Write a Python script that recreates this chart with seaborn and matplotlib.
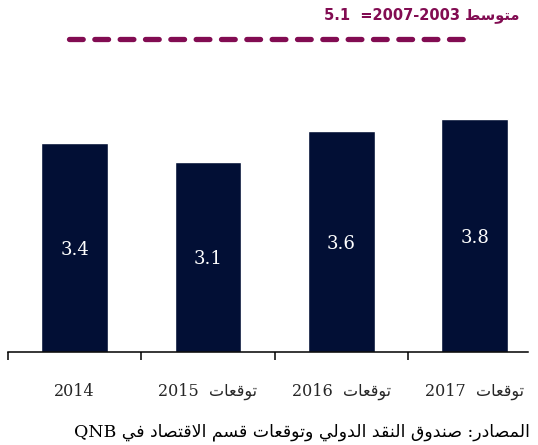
import matplotlib
matplotlib.use("Agg")
import matplotlib.pyplot as plt
import seaborn as sns

# Data
years = ["2014", "2015", "2016", "2017"]
forecast = [False, True, True, True]
growth = [3.4, 3.1, 3.6, 3.8]
avg_value = 5.1
avg_label = "متوسط"
avg_period = "2007-2003"
forecast_word = "توقعات"
source_text = "المصادر: صندوق النقد الدولي وتوقعات قسم الاقتصاد في"
source_tail = "QNB"

BAR_COLOR = "#020f35"
AVG_COLOR = "#820c52"

# Minimal Arabic shaping (matplotlib has no bidi / joining support)
# letter: (isolated, final, initial, medial); None -> does not join forward
FORMS = {
    "ا": ("\uFE8D", "\uFE8E", None, None),
    "ب": ("\uFE8F", "\uFE90", "\uFE91", "\uFE92"),
    "ت": ("\uFE95", "\uFE96", "\uFE97", "\uFE98"),
    "د": ("\uFEA9", "\uFEAA", None, None),
    "ر": ("\uFEAD", "\uFEAE", None, None),
    "س": ("\uFEB1", "\uFEB2", "\uFEB3", "\uFEB4"),
    "ص": ("\uFEB9", "\uFEBA", "\uFEBB", "\uFEBC"),
    "ط": ("\uFEC1", "\uFEC2", "\uFEC3", "\uFEC4"),
    "ع": ("\uFEC9", "\uFECA", "\uFECB", "\uFECC"),
    "ف": ("\uFED1", "\uFED2", "\uFED3", "\uFED4"),
    "ق": ("\uFED5", "\uFED6", "\uFED7", "\uFED8"),
    "ل": ("\uFEDD", "\uFEDE", "\uFEDF", "\uFEE0"),
    "م": ("\uFEE1", "\uFEE2", "\uFEE3", "\uFEE4"),
    "ن": ("\uFEE5", "\uFEE6", "\uFEE7", "\uFEE8"),
    "و": ("\uFEED", "\uFEEE", None, None),
    "ي": ("\uFEF1", "\uFEF2", "\uFEF3", "\uFEF4"),
}


def joins_forward(ch):
    return ch in FORMS and FORMS[ch][2] is not None


def ar(text):
    out = []
    i = 0
    n = len(text)
    while i < n:
        ch = text[i]
        if ch not in FORMS:
            out.append(ch)
            i += 1
            continue
        prev_join = i > 0 and joins_forward(text[i - 1])
        if ch == "ل" and i + 1 < n and text[i + 1] == "ا":
            out.append("\uFEFC" if prev_join else "\uFEFB")
            i += 2
            continue
        nxt = text[i + 1] if i + 1 < n else ""
        next_join = joins_forward(ch) and nxt in FORMS
        iso, fin, ini, med = FORMS[ch]
        if prev_join and next_join:
            out.append(med)
        elif prev_join:
            out.append(fin)
        elif next_join:
            out.append(ini)
        else:
            out.append(iso)
        i += 1
    return "".join(reversed(out))


labels = [
    (y + "  " + ar(forecast_word)) if f else y for y, f in zip(years, forecast)
]

sns.set_theme(style="white")
plt.rcParams["font.family"] = ["DejaVu Serif", "DejaVu Sans"]

fig = plt.figure(figsize=(5.38, 4.45), dpi=100)
ax = fig.add_axes([8 / 538, 93 / 445, 520 / 538, 352 / 445])

sns.barplot(x=labels, y=growth, color=BAR_COLOR, saturation=1, width=0.5, ax=ax)

for i, v in enumerate(growth):
    ax.text(i, v / 2 - 0.04, f"{v:.1f}", color="white", ha="center", va="center",
            fontsize=13, family=["DejaVu Serif"])

# 2003-2007 average line
ax.hlines(avg_value, -0.04, 2.97, color=AVG_COLOR, lw=3.8,
          linestyles=(0, (2.6, 2.2)), capstyle="round")
fig.text(519 / 538, 1 - 15 / 445,
         f"{avg_value}  ={avg_period} " + ar(avg_label),
         ha="right", va="center", color=AVG_COLOR, fontsize=10.5,
         fontweight="bold", family=["DejaVu Sans"])

ax.set_xlim(-0.5, 3.4)
ax.set_ylim(0, 5.74)
ax.set_yticks([])
ax.set_xticks(range(len(labels)))
ax.set_xticklabels(labels, fontsize=11.5)
ax.set_xticks([-0.5, 0.5, 1.5, 2.5], minor=True)
ax.tick_params(axis="x", which="major", length=0, pad=22)
ax.tick_params(axis="x", which="minor", length=6, width=1.1, direction="out",
               bottom=True, color="black")
for side in ["top", "left", "right"]:
    ax.spines[side].set_visible(False)
ax.spines["bottom"].set_color("black")
ax.spines["bottom"].set_linewidth(1.1)

fig.text(530 / 538, 1 - 432 / 445, source_tail + " " + ar(source_text),
         ha="right", va="center", fontsize=12.5, color="black",
         family=["DejaVu Serif", "DejaVu Sans"])

fig.savefig("out.png", dpi=100)
